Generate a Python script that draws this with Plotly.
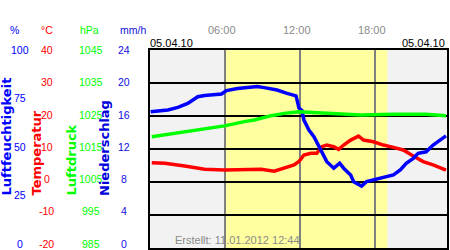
import plotly.graph_objects as go

# ---- data (hours of day 05.04.10) ----
hum_t = [0.05, 1.43, 2.23, 3.02, 3.82, 4.37, 5.72, 6.12, 7.0, 8.59, 9.14, 10.17, 10.97, 11.69,
         11.92, 12.16, 12.32, 12.72, 13.12, 13.51, 13.91, 14.15, 14.71, 15.18, 15.5, 16.06, 16.3,
         16.53, 16.93, 17.33, 17.89, 18.44, 18.92, 19.48, 20.03, 20.51, 21.07, 21.46, 22.1, 22.66,
         23.21, 23.69]
humidity = [68.8, 69.7, 71, 73, 76.4, 77, 77.8, 79.5, 80.6, 81.5, 81, 79.8, 78.1, 76.8,
            70.7, 69.5, 64.6, 59.6, 56.2, 51.2, 47, 43.6, 40.3, 42.8, 40.3, 36.9, 33.5,
            32.7, 31.3, 33.5, 34.3, 35.5, 36, 36.9, 39.4, 42.8, 45.3, 47.8, 48.6, 52,
            54.5, 56.6]

temp_t = [0.14, 1.19, 2.78, 4.37, 5.96, 7.55, 8.9, 9.94, 10.73, 11.53, 11.92, 12.32, 12.88,
          13.35, 13.75, 14.15, 14.71, 15.1, 15.5, 16.06, 16.69, 17.09, 17.89, 18.68, 19.48,
          20.27, 21.07, 21.86, 22.66, 23.69]
temperature = [5.85, 5.7, 4.85, 3.85, 3.6, 3.85, 3.85, 3.3, 4.1, 5.15, 6.2, 8.2, 8.7,
               8.7, 10.7, 11.2, 10.7, 9.9, 11.2, 12.7, 13.9, 12.7, 12.2, 11.2, 10.5,
               9.7, 7.9, 6.2, 5.2, 3.6]

pres_t = [0.14, 2.23, 4.37, 5.96, 7.55, 8.35, 9.7, 10.73, 11.92, 13.12, 14.71, 16.85, 19.48,
          22.1, 23.69]
pressure = [1018.7, 1019.8, 1021, 1022, 1023.3, 1023.8, 1025.1, 1025.8, 1026.3, 1026, 1025.6,
            1025.3, 1025.5, 1025.5, 1025.1]

precip_t = []
precipitation = []

hum_ticks = [0, 25, 50, 75, 100]
temp_ticks = [-20, -10, 0, 10, 20, 30, 40]
pres_ticks = [985, 995, 1005, 1015, 1025, 1035, 1045]
prec_ticks = [0, 4, 8, 12, 16, 20, 24]
time_ticks = [6, 12, 18]
time_labels = ["06:00", "12:00", "18:00"]
date_label = "05.04.10"
created = "Erstellt: 11.01.2012 12:44"
day_start, day_end = 6.0, 19.0

BLUE = "#0000ff"
RED = "#ff0000"
GREEN = "#00ff00"
FONT = "Liberation Sans, Arial, sans-serif"
TFONT = "DejaVu Sans, sans-serif"

fig = go.Figure()
fig.add_trace(go.Scatter(x=pres_t, y=pressure, yaxis="y3", mode="lines",
                         line=dict(color=GREEN, width=3.5), hoverinfo="skip"))
fig.add_trace(go.Scatter(x=temp_t, y=temperature, yaxis="y", mode="lines",
                         line=dict(color=RED, width=3.5), hoverinfo="skip"))
fig.add_trace(go.Scatter(x=hum_t, y=humidity, yaxis="y2", mode="lines",
                         line=dict(color=BLUE, width=3.5), hoverinfo="skip"))
fig.add_trace(go.Scatter(x=precip_t, y=precipitation, yaxis="y4", mode="lines",
                         line=dict(color=BLUE, width=3.5), hoverinfo="skip"))

# backgrounds
fig.add_shape(type="rect", xref="x", yref="paper", x0=0, x1=24, y0=0, y1=1,
              fillcolor="#f2f2f2", line_width=0, layer="below")
fig.add_shape(type="rect", xref="x", yref="paper", x0=day_start, x1=day_end, y0=0, y1=1,
              fillcolor="#ffffa0", line_width=0, layer="below")

ann = []
def add(text, x, y, xref="paper", yref="paper", color="black", size=10.5, xshift=0, yshift=0,
        xanchor="center", yanchor="middle", font=FONT, angle=0, bold=False):
    ann.append(dict(text=("<b>%s</b>" % text) if bold else text, x=x, y=y, xref=xref, yref=yref,
                    showarrow=False, xanchor=xanchor, yanchor=yanchor, xshift=xshift,
                    yshift=yshift, textangle=angle,
                    font=dict(family=font, size=size, color=color)))

def lift(v, ticks):
    lo, hi = min(ticks), max(ticks)
    return 4.5 * (1 - (v - lo) / (hi - lo))

# left tick labels (x offsets in px from plot left edge at 150)
for v in hum_ticks:
    add(str(v), 0, v, yref="y2", color=BLUE, xshift=20 - 150, yshift=lift(v, hum_ticks))
for v in temp_ticks:
    add(str(v), 0, v, yref="y", color=RED, xshift=46.5 - 150, yshift=lift(v, temp_ticks))
for v in pres_ticks:
    add(str(v), 0, v, yref="y3", color=GREEN, xshift=91 - 150, yshift=lift(v, pres_ticks))
for v in prec_ticks:
    add(str(v), 0, v, yref="y4", color="#1010e0", xshift=124 - 150, yshift=lift(v, prec_ticks))

# unit headers
for txt, cx, col in [("%", 14.5, BLUE), ("°C", 46.5, RED), ("hPa", 89.5, GREEN), ("mm/h", 132.5, "#1010e0")]:
    add(txt, 0, 1, color=col, xshift=cx - 150, yshift=50 - 30, size=10.5)

# rotated axis titles, bottom-aligned at y=198 px
for txt, cx, col in [("Luftfeuchtigkeit", 5.5, BLUE), ("Temperatur", 36, RED),
                     ("Luftdruck", 71, GREEN), ("Niederschlag", 104, "#0000dd")]:
    add(txt, 0, 0, color=col, xshift=cx - 150, yshift=248 - 198, angle=-90,
        yanchor="bottom", font=TFONT, size=13, bold=True)

# time labels
for tv, tl in zip(time_ticks, time_labels):
    add(tl, tv, 1, xref="x", color="#8a8a8a", size=11, xshift=-3, yshift=20)

# dates
add(date_label, 0, 1, xref="paper", xanchor="left", yshift=7, size=11, xshift=-2)
add(date_label, 1, 1, xref="paper", xanchor="right", yshift=7, size=11, xshift=0)

# created note
add(created, 0, 0, xanchor="left", yanchor="middle", xshift=175 - 150 - 2, yshift=8,
    color="#8a8a8a", size=11)

fig.update_layout(
    width=450, height=250,
    margin=dict(l=150, r=1, t=50, b=2),
    paper_bgcolor="white", plot_bgcolor="rgba(0,0,0,0)",
    showlegend=False,
    annotations=ann,
    xaxis=dict(range=[0, 23.77], tickvals=time_ticks, showticklabels=False, ticks="",
               showgrid=True, gridcolor="#808080", gridwidth=1.5, zeroline=False,
               showline=True, linecolor="black", linewidth=1.5, mirror=True, fixedrange=True),
    yaxis=dict(range=[-20, 40], tickvals=temp_ticks, showticklabels=False, ticks="",
               showgrid=True, gridcolor="black", gridwidth=1.5, zeroline=False,
               showline=True, linecolor="black", linewidth=1.5, mirror=True),
    yaxis2=dict(range=[0, 100], overlaying="y", visible=False, showgrid=False),
    yaxis3=dict(range=[985, 1045], overlaying="y", visible=False, showgrid=False),
    yaxis4=dict(range=[0, 24], overlaying="y", visible=False, showgrid=False),
)

fig.write_html("out.html")
